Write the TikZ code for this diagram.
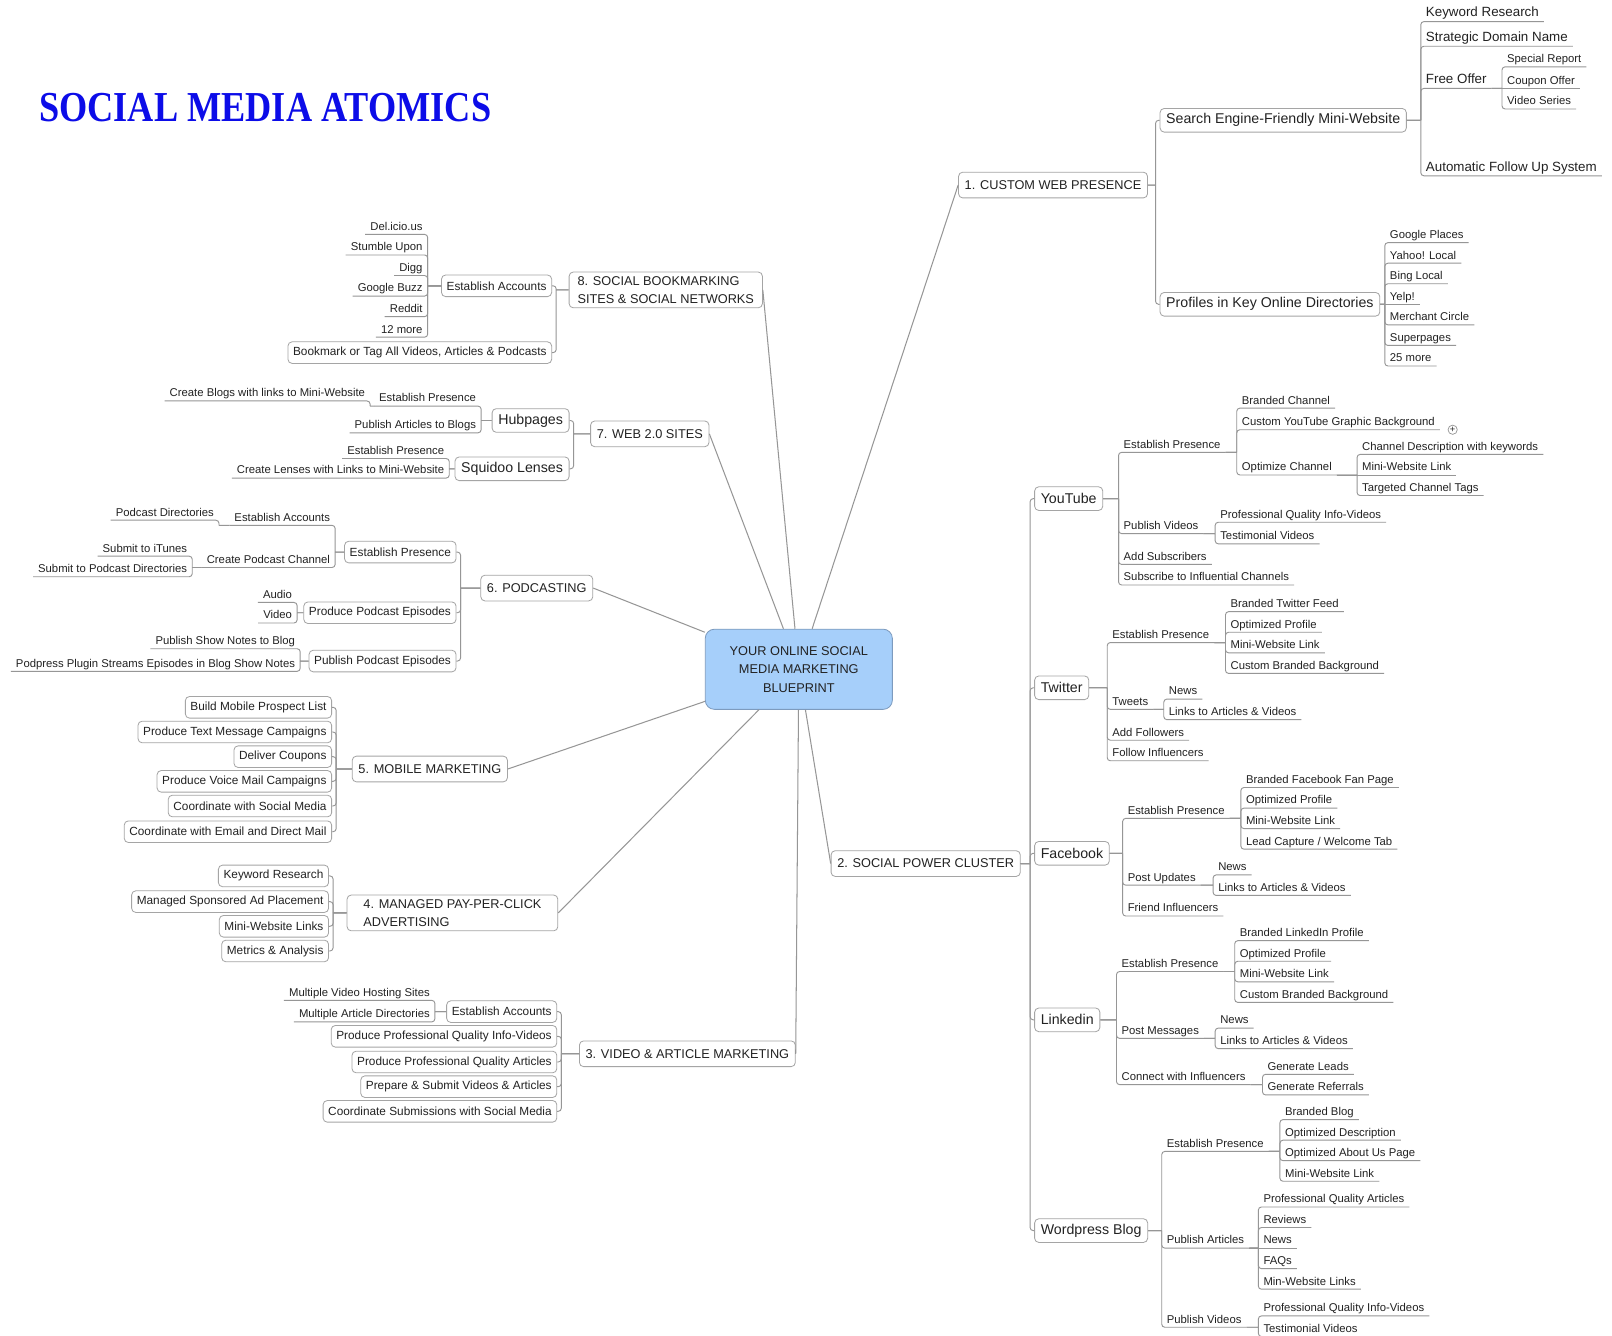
\documentclass[tikz,border=0pt]{standalone}
\usepackage{fontspec}
\setmainfont{Liberation Sans}
\newfontfamily\titlefont{Liberation Serif}
\usepackage{tikz}
\usetikzlibrary{positioning,calc}

\definecolor{linkgray}{RGB}{150,150,150}
\definecolor{boxgray}{RGB}{165,165,165}
\definecolor{hubblue}{RGB}{166,207,250}
\definecolor{hubedge}{RGB}{125,155,190}
\definecolor{titleblue}{RGB}{12,12,232}
\definecolor{ink}{RGB}{34,34,34}

\tikzset{
  ttl/.style={inner sep=0pt,text=titleblue,font=\titlefont\bfseries\fontsize{41.5}{44}\selectfont},
  hub/.style={draw=hubedge,fill=hubblue,line width=0.8pt,rounded corners=9pt,
    minimum width=182pt,minimum height=78pt,align=center,font=\fontsize{12.4}{18}\selectfont},
  topic/.style={draw=boxgray,fill=white,line width=0.8pt,rounded corners=4pt,
    inner xsep=6pt,inner ysep=4pt,minimum height=25pt,align=left,font=\fontsize{12.4}{18}\selectfont},
  tbox/.style={topic,minimum height=23pt,inner xsep=6pt,font=\fontsize{13.8}{16}\selectfont},
  sbox/.style={topic,minimum height=21pt,inner xsep=5pt,font=\fontsize{11.5}{14}\selectfont},
  rleaf/.style={anchor=south west,inner xsep=5pt,inner ysep=1.5pt,outer sep=0pt,
    text height=8pt,text depth=2.5pt,font=\fontsize{11}{13}\selectfont},
  lleaf/.style={rleaf,anchor=south east},
  rbig/.style={rleaf,text height=9.5pt,text depth=3pt,font=\fontsize{13}{15}\selectfont},
  plus/.style={draw=linkgray,line width=0.7pt,circle,inner sep=0pt,minimum size=9pt,
    font=\fontsize{9}{9}\selectfont},
  spoke/.style={draw=linkgray,line width=1pt},
  link/.style={draw=linkgray,line width=0.9pt,rounded corners=3pt},
  % twigs on the right
  rtw/.style={to path={(\tikztostart) -- (\tikztostart -| \tikztotarget.south west)
      (\tikztostart -| \tikztotarget.south west) |- (\tikztotarget.south east)}},
  rbx/.style={to path={(\tikztostart) -- ($(\tikztostart -| \tikztotarget.west)+(-4pt,0)$)
      ($(\tikztostart -| \tikztotarget.west)+(-4pt,0)$) |- (\tikztotarget.west)}},
  rst/.style={to path={(\tikztostart) -- (\tikztotarget.south east)}},
  % twigs on the left
  ltw/.style={to path={(\tikztostart) -- (\tikztostart -| \tikztotarget.south east)
      (\tikztostart -| \tikztotarget.south east) |- (\tikztotarget.south west)}},
  lbx/.style={to path={(\tikztostart) -- ($(\tikztostart -| \tikztotarget.east)+(4pt,0)$)
      ($(\tikztostart -| \tikztotarget.east)+(4pt,0)$) |- (\tikztotarget.east)}}
}

\begin{document}
\begin{tikzpicture}[x=1pt,y=-1pt,every node/.style={text=ink}]
  \fill[white] (0,0) rectangle (1568,1299);
  \useasboundingbox (0,0) rectangle (1568,1299);

  \node[ttl] (ttl) at (258,105) {\scalebox{0.85}[1]{SOCIAL MEDIA ATOMICS}};
  \node[hub] (hub) at (777,651) {YOUR ONLINE SOCIAL\\MEDIA MARKETING\\BLUEPRINT};

  % 1. custom web presence
  \node[topic,anchor=west] (b1) at (932,180) {1. CUSTOM WEB PRESENCE};
  \node[tbox,anchor=west] (sw) at (1128,117) {Search Engine-Friendly Mini-Website};
  \node[tbox,anchor=west] (pd) at (1128,296) {Profiles in Key Online Directories};
  \node[rbig] (kr) at (1382,21) {Keyword Research};
  \node[rbig] (sd) at (1382,45) {Strategic Domain Name};
  \node[rbig] (fo) at (1382,86) {Free Offer};
  \node[rbig] (af) at (1382,171) {Automatic Follow Up System};
  \node[rleaf] (sr) at (1461,65) {Special Report};
  \node[rleaf] (co) at (1461,86) {Coupon Offer};
  \node[rleaf] (vs) at (1461,106) {Video Series};
  \node[rleaf] (gp) at (1347,236) {Google Places};
  \node[rleaf] (yl) at (1347,256) {Yahoo! Local};
  \node[rleaf] (bl) at (1347,276) {Bing Local};
  \node[rleaf] (yp) at (1347,296) {Yelp!};
  \node[rleaf] (mc) at (1347,316) {Merchant Circle};
  \node[rleaf] (sp) at (1347,336) {Superpages};
  \node[rleaf] (mo) at (1347,356) {25 more};

  % 2. social power cluster
  \node[topic,anchor=west] (b2) at (808,840) {2. SOCIAL POWER CLUSTER};
  \node[tbox,anchor=west] (yt) at (1006,485) {YouTube};
  \node[tbox,anchor=west] (tw) at (1006,669) {Twitter};
  \node[tbox,anchor=west] (fb) at (1006,830) {Facebook};
  \node[tbox,anchor=west] (li) at (1006,992) {Linkedin};
  \node[tbox,anchor=west] (wp) at (1006,1197) {Wordpress Blog};

  \node[rleaf] (yep) at (1088,440) {Establish Presence};
  \node[rleaf] (ybc) at (1203,397) {Branded Channel};
  \node[rleaf] (ycb) at (1203,418) {Custom YouTube Graphic Background};
  \node[plus] (ypl) at (1413,418) {+};
  \node[rleaf] (yoc) at (1203,462) {Optimize Channel};
  \node[rleaf] (ycd) at (1320,442) {Channel Description with keywords};
  \node[rleaf] (yml) at (1320,462) {Mini-Website Link};
  \node[rleaf] (ytt) at (1320,482) {Targeted Channel Tags};
  \node[rleaf] (ypv) at (1088,519) {Publish Videos};
  \node[rleaf] (ypq) at (1182,508) {Professional Quality Info-Videos};
  \node[rleaf] (ytv) at (1182,529) {Testimonial Videos};
  \node[rleaf] (yas) at (1088,549) {Add Subscribers};
  \node[rleaf] (ysi) at (1088,569) {Subscribe to Influential Channels};

  \node[rleaf] (tep) at (1077,625) {Establish Presence};
  \node[rleaf] (tbf) at (1192,595) {Branded Twitter Feed};
  \node[rleaf] (top) at (1192,615) {Optimized Profile};
  \node[rleaf] (tml) at (1192,635) {Mini-Website Link};
  \node[rleaf] (tcb) at (1192,655) {Custom Branded Background};
  \node[rleaf] (ttw) at (1077,690) {Tweets};
  \node[rleaf] (tnw) at (1132,680) {News};
  \node[rleaf] (tla) at (1132,700) {Links to Articles \& Videos};
  \node[rleaf] (taf) at (1077,720) {Add Followers};
  \node[rleaf] (tfi) at (1077,740) {Follow Influencers};

  \node[rleaf] (fep) at (1092,796) {Establish Presence};
  \node[rleaf] (fbf) at (1207,766) {Branded Facebook Fan Page};
  \node[rleaf] (fop) at (1207,786) {Optimized Profile};
  \node[rleaf] (fml) at (1207,806) {Mini-Website Link};
  \node[rleaf] (flc) at (1207,826) {Lead Capture / Welcome Tab};
  \node[rleaf] (fpu) at (1092,861) {Post Updates};
  \node[rleaf] (fnw) at (1180,851) {News};
  \node[rleaf] (fla) at (1180,871) {Links to Articles \& Videos};
  \node[rleaf] (ffi) at (1092,891) {Friend Influencers};

  \node[rleaf] (lep) at (1086,945) {Establish Presence};
  \node[rleaf] (lbp) at (1201,915) {Branded LinkedIn Profile};
  \node[rleaf] (lop) at (1201,935) {Optimized Profile};
  \node[rleaf] (lml) at (1201,955) {Mini-Website Link};
  \node[rleaf] (lcb) at (1201,975) {Custom Branded Background};
  \node[rleaf] (lpm) at (1086,1010) {Post Messages};
  \node[rleaf] (lnw) at (1182,1000) {News};
  \node[rleaf] (lla) at (1182,1020) {Links to Articles \& Videos};
  \node[rleaf] (lci) at (1086,1055) {Connect with Influencers};
  \node[rleaf] (lgl) at (1228,1045) {Generate Leads};
  \node[rleaf] (lgr) at (1228,1065) {Generate Referrals};

  \node[rleaf] (wep) at (1130,1120) {Establish Presence};
  \node[rleaf] (wbb) at (1245,1089) {Branded Blog};
  \node[rleaf] (wod) at (1245,1109) {Optimized Description};
  \node[rleaf] (wau) at (1245,1129) {Optimized About Us Page};
  \node[rleaf] (wml) at (1245,1149) {Mini-Website Link};
  \node[rleaf] (wpa) at (1130,1214) {Publish Articles};
  \node[rleaf] (wqa) at (1224,1174) {Professional Quality Articles};
  \node[rleaf] (wrv) at (1224,1194) {Reviews};
  \node[rleaf] (wnw) at (1224,1214) {News};
  \node[rleaf] (wfq) at (1224,1234) {FAQs};
  \node[rleaf] (wmw) at (1224,1254) {Min-Website Links};
  \node[rleaf] (wpv) at (1130,1291) {Publish Videos};
  \node[rleaf] (wqv) at (1224,1280) {Professional Quality Info-Videos};
  \node[rleaf] (wtv) at (1224,1300) {Testimonial Videos};

  % 3. video & article marketing
  \node[topic,anchor=east] (b3) at (774,1025) {3. VIDEO \& ARTICLE MARKETING};
  \node[sbox,anchor=east] (ea3) at (542,984) {Establish Accounts};
  \node[sbox,anchor=east] (iv3) at (542,1008) {Produce Professional Quality Info-Videos};
  \node[sbox,anchor=east] (pa3) at (542,1033) {Produce Professional Quality Articles};
  \node[sbox,anchor=east] (sv3) at (542,1057) {Prepare \& Submit Videos \& Articles};
  \node[sbox,anchor=east] (cs3) at (542,1081) {Coordinate Submissions with Social Media};
  \node[lleaf] (vh3) at (423,973) {Multiple Video Hosting Sites};
  \node[lleaf] (ad3) at (423,994) {Multiple Article Directories};

  % 4. managed pay-per-click
  \node[topic,anchor=east,minimum width=205pt] (b4) at (543,888) {4. MANAGED PAY-PER-CLICK\\ADVERTISING};
  \node[sbox,anchor=east] (kw4) at (320,852) {Keyword Research};
  \node[sbox,anchor=east] (ad4) at (320,877) {Managed Sponsored Ad Placement};
  \node[sbox,anchor=east] (ml4) at (320,901) {Mini-Website Links};
  \node[sbox,anchor=east] (an4) at (320,925) {Metrics \& Analysis};

  % 5. mobile marketing
  \node[topic,anchor=east] (b5) at (494,748) {5. MOBILE MARKETING};
  \node[sbox,anchor=east] (mp) at (323,688) {Build Mobile Prospect List};
  \node[sbox,anchor=east] (mt) at (323,712) {Produce Text Message Campaigns};
  \node[sbox,anchor=east] (mdc) at (323,736) {Deliver Coupons};
  \node[sbox,anchor=east] (mv) at (323,760) {Produce Voice Mail Campaigns};
  \node[sbox,anchor=east] (ms) at (323,784) {Coordinate with Social Media};
  \node[sbox,anchor=east] (me) at (323,809) {Coordinate with Email and Direct Mail};

  % 6. podcasting
  \node[topic,anchor=east] (b6) at (577,572) {6. PODCASTING};
  \node[sbox,anchor=east] (ep6) at (444,537) {Establish Presence};
  \node[sbox,anchor=east] (pp6) at (444,596) {Produce Podcast Episodes};
  \node[sbox,anchor=east] (pu6) at (444,643) {Publish Podcast Episodes};
  \node[lleaf] (ea6) at (326,511) {Establish Accounts};
  \node[lleaf] (cp6) at (326,552) {Create Podcast Channel};
  \node[lleaf] (pdr) at (213,506) {Podcast Directories};
  \node[lleaf] (sit) at (187,541) {Submit to iTunes};
  \node[lleaf] (spd) at (187,561) {Submit to Podcast Directories};
  \node[lleaf] (au) at (289,586) {Audio};
  \node[lleaf] (vd) at (289,606) {Video};
  \node[lleaf] (ps) at (292,631) {Publish Show Notes to Blog};
  \node[lleaf] (pps) at (292,653) {Podpress Plugin Streams Episodes in Blog Show Notes};

  % 7. web 2.0 sites
  \node[topic,anchor=east] (b7) at (690,422) {7. WEB 2.0 SITES};
  \node[tbox,anchor=east] (hp) at (554,409) {Hubpages};
  \node[tbox,anchor=east] (sq) at (554,456) {Squidoo Lenses};
  \node[lleaf] (hep) at (468,395) {Establish Presence};
  \node[lleaf] (hpa) at (468,421) {Publish Articles to Blogs};
  \node[lleaf] (cb) at (360,390) {Create Blogs with links to Mini-Website};
  \node[lleaf] (sep) at (437,446) {Establish Presence};
  \node[lleaf] (scl) at (437,465) {Create Lenses with Links to Mini-Website};

  % 8. social bookmarking
  \node[topic,anchor=east,minimum width=188pt] (b8) at (742,282) {8. SOCIAL BOOKMARKING\\SITES \& SOCIAL NETWORKS};
  \node[sbox,anchor=east] (ea8) at (537,278) {Establish Accounts};
  \node[sbox,anchor=east] (bt8) at (537,343) {Bookmark or Tag All Videos, Articles \& Podcasts};
  \node[lleaf] (dl) at (416,228) {Del.icio.us};
  \node[lleaf] (su) at (416,248) {Stumble Upon};
  \node[lleaf] (dg) at (416,268) {Digg};
  \node[lleaf] (gb) at (416,288) {Google Buzz};
  \node[lleaf] (rd) at (416,308) {Reddit};
  \node[lleaf] (tm) at (416,328) {12 more};

  \path[spoke]
  (hub) edge (b1.west)
  (hub) edge (b2.west)
  (hub) edge (b3.east)
  (hub) edge (b4.east)
  (hub) edge (b5.east)
  (hub) edge (b6.east)
  (hub) edge (b7.east)
  (hub) edge (b8.east)
  ;

  \path[link]
  (b1.east) edge[rbx] (sw)
  (b1.east) edge[rbx] (pd)
  (sw.east) edge[rtw] (kr)
  (sw.east) edge[rtw] (sd)
  (sw.east) edge[rtw] (fo)
  (sw.east) edge[rtw] (af)
  (fo.south east) edge[rtw] (sr)
  (fo.south east) edge[rst] (co)
  (fo.south east) edge[rtw] (vs)
  (pd.east) edge[rtw] (gp)
  (pd.east) edge[rtw] (yl)
  (pd.east) edge[rtw] (bl)
  (pd.east) edge[rst] (yp)
  (pd.east) edge[rtw] (mc)
  (pd.east) edge[rtw] (sp)
  (pd.east) edge[rtw] (mo)
  ;

  \path[link]
  (b2.east) edge[rbx] (yt)
  (b2.east) edge[rbx] (tw)
  (b2.east) edge[rbx] (fb)
  (b2.east) edge[rbx] (li)
  (b2.east) edge[rbx] (wp)
  (yt.east) edge[rtw] (yep)
  (yt.east) edge[rtw] (ypv)
  (yt.east) edge[rtw] (yas)
  (yt.east) edge[rtw] (ysi)
  (yep.south east) edge[rtw] (ybc)
  (yep.south east) edge[rtw] (ycb)
  (yep.south east) edge[rtw] (yoc)
  (yoc.south east) edge[rtw] (ycd)
  (yoc.south east) edge[rst] (yml)
  (yoc.south east) edge[rtw] (ytt)
  (ypv.south east) edge[rtw] (ypq)
  (ypv.south east) edge[rtw] (ytv)
  (tw.east) edge[rtw] (tep)
  (tw.east) edge[rtw] (ttw)
  (tw.east) edge[rtw] (taf)
  (tw.east) edge[rtw] (tfi)
  (tep.south east) edge[rtw] (tbf)
  (tep.south east) edge[rtw] (top)
  (tep.south east) edge[rtw] (tml)
  (tep.south east) edge[rtw] (tcb)
  (ttw.south east) edge[rtw] (tnw)
  (ttw.south east) edge[rtw] (tla)
  (fb.east) edge[rtw] (fep)
  (fb.east) edge[rtw] (fpu)
  (fb.east) edge[rtw] (ffi)
  (fep.south east) edge[rtw] (fbf)
  (fep.south east) edge[rtw] (fop)
  (fep.south east) edge[rtw] (fml)
  (fep.south east) edge[rtw] (flc)
  (fpu.south east) edge[rtw] (fnw)
  (fpu.south east) edge[rtw] (fla)
  (li.east) edge[rtw] (lep)
  (li.east) edge[rtw] (lpm)
  (li.east) edge[rtw] (lci)
  (lep.south east) edge[rtw] (lbp)
  (lep.south east) edge[rtw] (lop)
  (lep.south east) edge[rtw] (lml)
  (lep.south east) edge[rtw] (lcb)
  (lpm.south east) edge[rtw] (lnw)
  (lpm.south east) edge[rtw] (lla)
  (lci.south east) edge[rtw] (lgl)
  (lci.south east) edge[rtw] (lgr)
  (wp.east) edge[rtw] (wep)
  (wp.east) edge[rtw] (wpa)
  (wp.east) edge[rtw] (wpv)
  (wep.south east) edge[rtw] (wbb)
  (wep.south east) edge[rtw] (wod)
  (wep.south east) edge[rtw] (wau)
  (wep.south east) edge[rtw] (wml)
  (wpa.south east) edge[rtw] (wqa)
  (wpa.south east) edge[rtw] (wrv)
  (wpa.south east) edge[rst] (wnw)
  (wpa.south east) edge[rtw] (wfq)
  (wpa.south east) edge[rtw] (wmw)
  (wpv.south east) edge[rtw] (wqv)
  (wpv.south east) edge[rtw] (wtv)
  ;

  \path[link]
  (b3.west) edge[lbx] (ea3)
  (b3.west) edge[lbx] (iv3)
  (b3.west) edge[lbx] (pa3)
  (b3.west) edge[lbx] (sv3)
  (b3.west) edge[lbx] (cs3)
  (ea3.west) edge[ltw] (vh3)
  (ea3.west) edge[ltw] (ad3)
  (b4.west) edge[lbx] (kw4)
  (b4.west) edge[lbx] (ad4)
  (b4.west) edge[lbx] (ml4)
  (b4.west) edge[lbx] (an4)
  (b5.west) edge[lbx] (mp)
  (b5.west) edge[lbx] (mt)
  (b5.west) edge[lbx] (mdc)
  (b5.west) edge[lbx] (mv)
  (b5.west) edge[lbx] (ms)
  (b5.west) edge[lbx] (me)
  (b6.west) edge[lbx] (ep6)
  (b6.west) edge[lbx] (pp6)
  (b6.west) edge[lbx] (pu6)
  (ep6.west) edge[ltw] (ea6)
  (ep6.west) edge[ltw] (cp6)
  (ea6.south west) edge[ltw] (pdr)
  (cp6.south west) edge[ltw] (sit)
  (cp6.south west) edge[ltw] (spd)
  (pp6.west) edge[ltw] (au)
  (pp6.west) edge[ltw] (vd)
  (pu6.west) edge[ltw] (ps)
  (pu6.west) edge[ltw] (pps)
  (b7.west) edge[lbx] (hp)
  (b7.west) edge[lbx] (sq)
  (hp.west) edge[ltw] (hep)
  (hp.west) edge[ltw] (hpa)
  (hep.south west) edge[ltw] (cb)
  (sq.west) edge[ltw] (sep)
  (sq.west) edge[ltw] (scl)
  (b8.west) edge[lbx] (ea8)
  (b8.west) edge[lbx] (bt8)
  (ea8.west) edge[ltw] (dl)
  (ea8.west) edge[ltw] (su)
  (ea8.west) edge[ltw] (dg)
  (ea8.west) edge[ltw] (gb)
  (ea8.west) edge[ltw] (rd)
  (ea8.west) edge[ltw] (tm)
  ;
\end{tikzpicture}
\end{document}
